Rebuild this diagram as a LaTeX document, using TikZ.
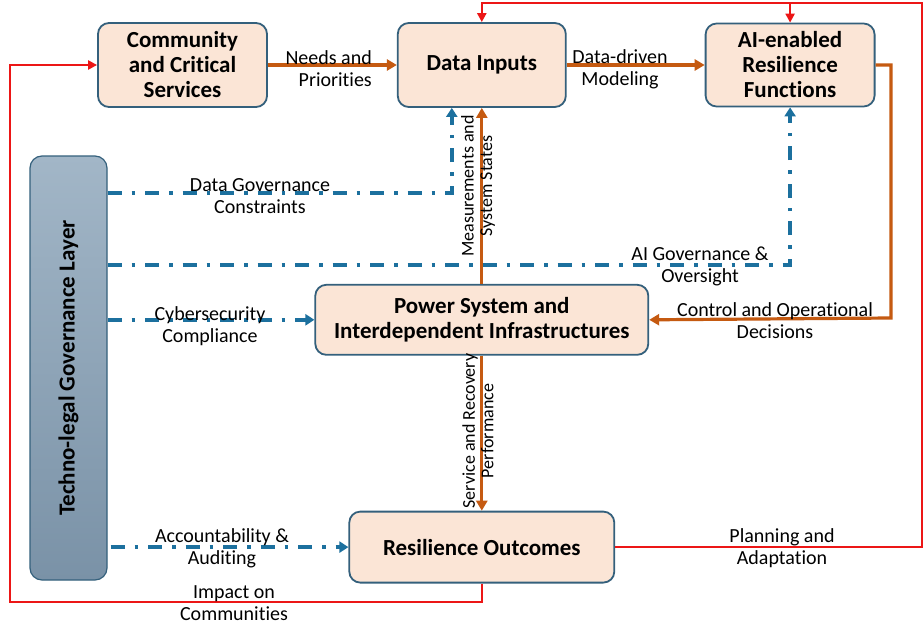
\documentclass[tikz,border=0pt]{standalone}
\usepackage{fontspec}
\setmainfont{Carlito}[Ligatures=NoCommon]
\usetikzlibrary{positioning,arrows.meta}

\definecolor{boxfill}{RGB}{251,229,214}
\definecolor{boxline}{RGB}{52,96,124}
\definecolor{flowc}{RGB}{197,90,17}
\definecolor{govc}{RGB}{28,112,158}
\definecolor{loopc}{RGB}{236,22,22}
\definecolor{bartop}{RGB}{162,182,199}
\definecolor{barbot}{RGB}{122,146,167}

\begin{document}
\begin{tikzpicture}[
  x=1pt,y=-1pt,
  block/.style={draw=boxline,line width=1.8pt,fill=boxfill,rounded corners=11pt,
    align=center,inner sep=0pt,font=\bfseries\fontsize{23}{25}\selectfont},
  govbar/.style={draw=boxline,line width=1.2pt,rounded corners=12pt,
    top color=bartop,bottom color=barbot,minimum width=77pt,minimum height=424pt},
  lbl/.style={align=center,inner sep=0pt,font=\fontsize{20}{22}\selectfont},
  vlbl/.style={align=center,inner sep=0pt,rotate=90,font=\fontsize{18}{18.5}\selectfont},
  flow/.style={draw=flowc,line width=3.2pt,-{Triangle[length=10pt,width=11pt]}},
  govline/.style={draw=govc,line width=3.4pt,dash pattern=on 14pt off 10pt on 3.5pt off 10pt,
    -{Triangle[length=9pt,width=11pt]}},
  loopline/.style={draw=loopc,line width=2.4pt,-{Triangle[length=9pt,width=9pt]}},
]
  \path[use as bounding box,fill=white] (0,0) rectangle (924,626);

  % Top row
  \node[block,minimum width=169pt,minimum height=84pt] (comm) at (182.5,65) {Community\\and Critical\\Services};
  \node[block,minimum width=168pt,minimum height=84pt,right=129pt of comm] (data) {Data Inputs};
  \node[block,minimum width=169pt,minimum height=83pt,right=138pt of data] (ai) {AI-enabled\\Resilience\\Functions};

  % Physical system and outcomes
  \node[block,minimum width=333pt,minimum height=70pt,below=176pt of data] (power) {Power System and\\Interdependent Infrastructures};
  \node[block,minimum width=265pt,minimum height=71pt,below=155pt of power] (res) {Resilience Outcomes};

  % Governance layer
  \node[govbar] (gov) at (68.5,368) {};
  \node[rotate=90,font=\bfseries\fontsize{23}{25}\selectfont] (govtxt) at (gov.center) {Techno-legal Governance Layer};

  % Corners of the feedback loops
  \coordinate (botleft) at (10,602);
  \coordinate (topright) at (922,3);
  \coordinate (ctrl) at (891,318);

  % Edges: main flow
  \draw[flow] (comm.east) -- (data.west);
  \draw[flow] (data.east) -- (ai.west);
  \draw[flow] (ai.east) -| (ctrl) -- (power.east);
  \draw[flow] (power.north) -- (data.south);
  \draw[flow] (power.south) -- (res.north);

  % Edges: governance
  \draw[govline] (gov.east |- 0,193) -| ([xshift=-30pt]data.south);
  \draw[govline] (gov.east |- 0,265) -| (ai.south);
  \draw[govline] (gov.east |- power.west) -- (power.west);
  \draw[govline] ([xshift=3pt]gov.east |- res.west) -- (res.west);

  % Edges: feedback
  \draw[loopline] (res.south) |- (botleft) |- (comm.west);
  \draw[loopline] (res.east) -| (topright) -| (data.north);
  \draw[loopline] (ai.north |- topright) -- (ai.north);

  % Labels
  \node[lbl,align=right,anchor=east] (lneeds) at (372,69) {Needs and\\Priorities};
  \node[lbl] (lmodel) at (620,69) {Data-driven\\Modeling};
  \node[lbl] (ldgov) at (260,196) {Data Governance\\Constraints};
  \node[lbl] (laigov) at (700,266) {AI Governance \&\\Oversight};
  \node[lbl] (lctrl) at (775,321) {Control and Operational\\Decisions};
  \node[lbl] (lcyber) at (210,326) {Cybersecurity\\Compliance};
  \node[lbl] (laudit) at (222,548) {Accountability \&\\Auditing};
  \node[lbl] (limpact) at (234,603) {Impact on\\Communities};
  \node[lbl] (lplan) at (782,548) {Planning and\\Adaptation};
  \node[vlbl] (lmeas) at (478,186) {Measurements and\\System States};
  \node[vlbl] (lserv) at (478,431) {Service and Recovery\\Performance};
\end{tikzpicture}
\end{document}
